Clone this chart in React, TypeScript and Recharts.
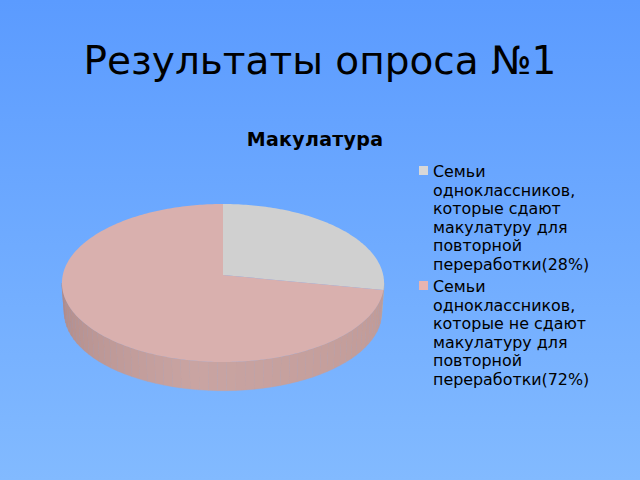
import { PieChart, Pie, Cell, Legend } from "recharts";

const CATEGORIES = [
  "Семьи одноклассников, которые сдают макулатуру для повторной переработки(28%)",
  "Семьи одноклассников, которые не сдают макулатуру для повторной переработки(72%)",
];
const VALUES = [28, 72];
const TOP_COLORS = ["#d0d0d0", "#d9b0ae"];
const SWATCH_COLORS = ["#d8d8d8", "#e8b4b0"];
// wall colour at left edge / front / right edge
const WALL_COLORS = [
  ["#a8a8a8", "#b8b8b8", "#b4b4b4"],
  ["#b08a88", "#c9a4a2", "#c09a96"],
];

const data = CATEGORIES.map((name, i) => ({ name, value: VALUES[i] }));

// tilted disc, the far edge is a bit smaller than the near edge
const C = 2.049;
const A = 0.012789;
const B = 0.001295;
const DEPTH = 30;
const BOTTOM_SCALE = 0.985;

function project(cx: number, cy: number, deg: number) {
  const a = (deg * Math.PI) / 180;
  const X = Math.sin(a);
  const Y = Math.cos(a);
  const d = A + B * Y;
  return { x: cx + (C * X) / d, y: cy - Y / d };
}

function projectBottom(cx: number, cy: number, deg: number) {
  const p = project(cx, cy, deg);
  return { x: cx + (p.x - cx) * BOTTOM_SCALE, y: cy + (p.y - cy) * BOTTOM_SCALE + DEPTH };
}

function hex(c: string) {
  return [1, 3, 5].map((i) => parseInt(c.slice(i, i + 2), 16));
}

function mix(c1: string, c2: string, t: number) {
  const a = hex(c1);
  const b = hex(c2);
  return `rgb(${a.map((v, i) => Math.round(v + (b[i] - v) * t)).join(",")})`;
}

function Slice3D(props: any) {
  const { cx, cy, startAngle, endAngle, index } = props;
  // recharts angles run counter-clockwise from 3 o'clock
  const from = 90 - startAngle;
  const to = 90 - endAngle;

  const pts = [`${cx},${cy}`];
  for (let a = from; a < to; a += 1) {
    const p = project(cx, cy, a);
    pts.push(`${p.x},${p.y}`);
  }
  const last = project(cx, cy, to);
  pts.push(`${last.x},${last.y}`);

  const walls = [];
  const colors = WALL_COLORS[index];
  const wallFrom = Math.max(from, 95.8);
  const wallTo = Math.min(to, 264.2);
  for (let a = wallFrom; a < wallTo; a += 3) {
    const next = Math.min(a + 3, wallTo);
    const p1 = project(cx, cy, a);
    const p2 = project(cx, cy, next);
    const p3 = projectBottom(cx, cy, next);
    const p4 = projectBottom(cx, cy, a);
    const t = (a - 95.8) / (264.2 - 95.8);
    const fill = t < 0.55 ? mix(colors[2], colors[1], t / 0.55) : mix(colors[1], colors[0], (t - 0.55) / 0.45);
    walls.push(
      <polygon
        key={a}
        points={`${p1.x},${p1.y} ${p2.x},${p2.y} ${p3.x},${p3.y} ${p4.x},${p4.y}`}
        fill={fill}
        stroke={fill}
        strokeWidth={0.4}
      />
    );
  }

  return (
    <g>
      {walls}
      <polygon points={pts.join(" ")} fill={TOP_COLORS[index]} />
    </g>
  );
}

function LegendList() {
  return (
    <div>
      {CATEGORIES.map((name, i) => (
        <div key={name} style={{ position: "relative", paddingLeft: 14, marginBottom: 3.4 }}>
          <span
            style={{
              position: "absolute",
              left: 0,
              top: 3,
              width: 9,
              height: 9,
              background: SWATCH_COLORS[i],
            }}
          />
          {name}
        </div>
      ))}
    </div>
  );
}

export default function App() {
  return (
    <div
      style={{
        position: "fixed",
        left: 0,
        top: 0,
        width: 640,
        height: 480,
        overflow: "hidden",
        background: "linear-gradient(180deg, #5b9bff 0%, #82baff 100%)",
        fontFamily: "'DejaVu Sans', sans-serif",
        color: "#000",
      }}
    >
      <div style={{ position: "absolute", left: 0, top: 37, width: 640, textAlign: "center", fontSize: 39, lineHeight: "48px" }}>
        Результаты опроса №1
      </div>
      <div
        style={{
          position: "absolute",
          left: 0,
          top: 129,
          width: 630,
          textAlign: "center",
          fontSize: 19,
          letterSpacing: 0.3,
          fontWeight: "bold",
          lineHeight: "20px",
        }}
      >
        Макулатура
      </div>
      <PieChart width={640} height={480} margin={{ top: 0, right: 0, bottom: 0, left: 0 }}>
        <Pie
          data={data}
          dataKey="value"
          nameKey="name"
          cx={223}
          cy={275}
          outerRadius={100}
          startAngle={90}
          endAngle={-270}
          stroke="none"
          isAnimationActive={false}
          shape={Slice3D}
        >
          {data.map((_, i) => (
            <Cell key={i} fill={TOP_COLORS[i]} />
          ))}
        </Pie>
        <Legend
          layout="vertical"
          align="right"
          verticalAlign="top"
          content={<LegendList />}
          wrapperStyle={{
            position: "absolute",
            left: 419,
            top: 163,
            width: 180,
            fontSize: 15.9,
            lineHeight: "18.6px",
            color: "#000",
          }}
        />
      </PieChart>
    </div>
  );
}
